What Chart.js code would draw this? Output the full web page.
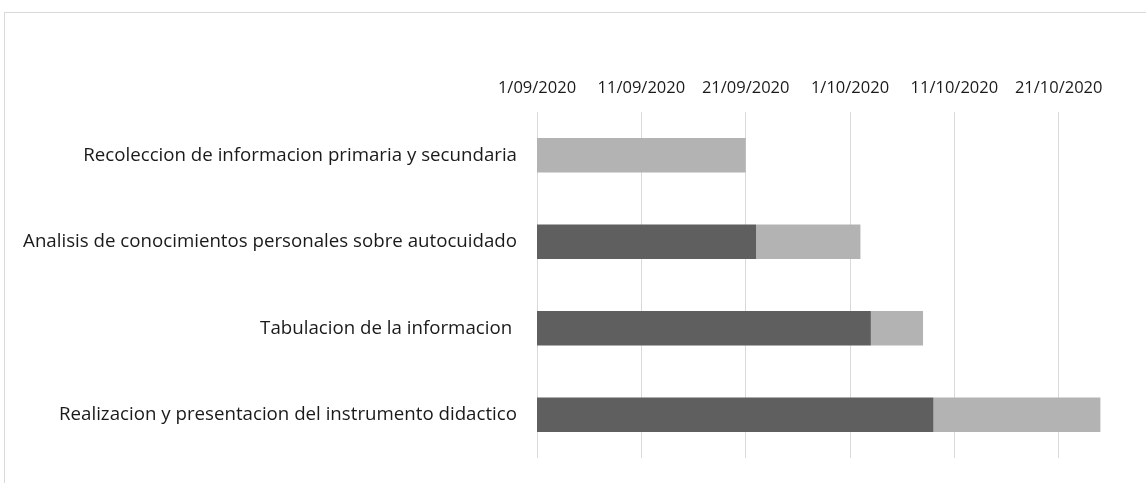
<!DOCTYPE html>
<html>
<head>
<meta charset="utf-8">
<script src="https://cdn.jsdelivr.net/npm/chart.js@4/dist/chart.umd.min.js"></script>
<style>
  html, body { margin: 0; padding: 0; background: #fff; overflow: hidden; width: 1146px; height: 483px; }
  #wrap { position: absolute; left: 0; top: 0; width: 1170px; height: 483px; }
  #frame { position: absolute; left: 4px; top: 12px; width: 1300px; height: 600px; border: 1px solid #d9d9d9; pointer-events: none; }
</style>
</head>
<body>
<div id="frame"></div>
<div id="wrap"><canvas id="c" width="1170" height="483"></canvas></div>
<script>
// ---- data ----
const categories = [
  'Recoleccion de informacion primaria y secundaria',
  'Analisis de conocimientos personales sobre autocuidado',
  'Tabulacion de la informacion ',
  'Realizacion y presentacion del instrumento didactico'
];
const startDates = ['2020-09-01', '2020-09-22', '2020-10-03', '2020-10-09'];
const durationDays = [20, 10, 5, 16];
const tickDates = ['2020-09-01', '2020-09-11', '2020-09-21', '2020-10-01', '2020-10-11', '2020-10-21'];
const axisMinDate = '2020-09-01';
const axisMaxDate = '2020-10-31';

// Excel-style date serials
function serial(iso) {
  const [y, m, d] = iso.split('-').map(Number);
  return Date.UTC(y, m - 1, d) / 86400000 + 25569;
}
function fmt(s) {
  const dt = new Date((s - 25569) * 86400000);
  const d = dt.getUTCDate();
  const m = String(dt.getUTCMonth() + 1).padStart(2, '0');
  return d + '/' + m + '/' + dt.getUTCFullYear();
}
const startSerials = startDates.map(serial);
const tickSerials = tickDates.map(serial);

const FONT = "'Open Sans', 'Liberation Sans', sans-serif";
const TEXT = '#1a1a1a';

new Chart(document.getElementById('c'), {
  type: 'bar',
  data: {
    labels: categories,
    datasets: [
      { label: 'Inicio', data: startSerials, backgroundColor: '#5f5f5f', borderWidth: 0,
        categoryPercentage: 1, barPercentage: 0.4 },
      { label: 'Duracion', data: durationDays, backgroundColor: '#b3b3b3', borderWidth: 0,
        categoryPercentage: 1, barPercentage: 0.4 }
    ]
  },
  options: {
    indexAxis: 'y',
    responsive: false,
    animation: false,
    layout: { padding: { left: 0, right: 7, top: 0, bottom: 25 } },
    plugins: { legend: { display: false }, tooltip: { enabled: false } },
    scales: {
      x: {
        position: 'top',
        stacked: true,
        min: serial(axisMinDate),
        max: serial(axisMaxDate),
        afterBuildTicks: (s) => { s.ticks = tickSerials.map(v => ({ value: v })); },
        afterFit: (s) => { s.height = 112; },
        grid: { color: '#d9d9d9', lineWidth: 1, drawTicks: false },
        border: { display: false },
        ticks: {
          autoSkip: false, maxRotation: 0, padding: 14,
          color: TEXT, font: { family: FONT, size: 16.5 },
          callback: (v) => fmt(v)
        }
      },
      y: {
        stacked: true,
        afterFit: (s) => { s.width = 537; },
        grid: { display: true, drawOnChartArea: false, drawTicks: true, tickLength: 20,
                color: 'rgba(0,0,0,0)', tickColor: 'rgba(0,0,0,0)' },
        border: { display: false },
        ticks: { padding: 0, color: TEXT, font: { family: FONT, size: 18.7 } }
      }
    }
  }
});
</script>
</body>
</html>
